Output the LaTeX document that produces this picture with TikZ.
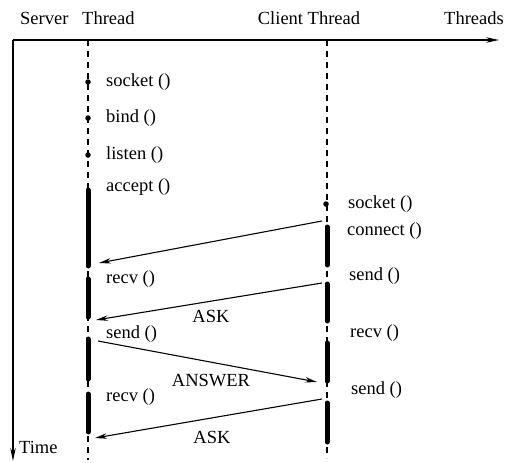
\documentclass[tikz,border=0pt]{standalone}
\usepackage{fontspec}
\setmainfont{Liberation Serif}
\usetikzlibrary{arrows.meta}
\tikzset{
  lbl/.style={anchor=west, inner sep=0pt, font=\fontsize{18.5}{20}\selectfont},
  txt/.style={inner sep=0pt, font=\fontsize{18.5}{20}\selectfont},
  life/.style={line width=1.6pt, dash pattern=on 6pt off 5pt},
  bar/.style={line width=5pt, line cap=round},
  msg/.style={line width=1.1pt, -{Stealth[length=12pt,width=5.5pt]}},
  axis/.style={line width=1.2pt, -{Stealth[length=13pt,width=5.5pt]}},
  ev/.style={circle, fill=black, inner sep=0pt, minimum size=5.5pt}
}
\begin{document}
\begin{tikzpicture}[x=1pt,y=-1pt]
\useasboundingbox (0,0) rectangle (507,463);

% axes
\coordinate (o) at (13,40);
\coordinate (xe) at (499,40);
\coordinate (ye) at (13,461);
\draw[axis] (o) -- (xe);
\draw[axis] (o) -- (ye);

% headings
\node[txt, anchor=base west] (hs) at (20,24) {Server};
\node[txt, anchor=base west] (ht) at (82,24) {Thread};
\node[txt, anchor=base] (hc) at (309,24) {Client Thread};
\node[txt, anchor=base east] (hth) at (504,24) {Threads};
\node[txt, anchor=base west] (htime) at (19,453) {Time};

% lifelines
\coordinate (s0) at (88,40);
\coordinate (s1) at (88,460);
\coordinate (c0) at (327,40);
\coordinate (c1) at (327,458);
\draw[life] (s0) -- (s1);
\draw[life] (c0) -- (c1);

% call events
\node[ev] (ds1) at (88,82) {};
\node[ev] (ds2) at (88,118) {};
\node[ev] (ds3) at (88,155) {};
\node[ev] (dc1) at (326,204) {};

% server calls
\node[lbl] (lsocket) at (106,82) {socket ()};
\node[lbl] (lbind) at (106,118) {bind ()};
\node[lbl] (llisten) at (106,155) {listen ()};
\node[lbl] (laccept) at (106,187) {accept ()};
\node[lbl] (lrecv1) at (106,279) {recv ()};
\node[lbl] (lsend1) at (106,334) {send ()};
\node[lbl] (lrecv2) at (106,397) {recv ()};

% client calls
\node[lbl] (csocket) at (348,204) {socket ()};
\node[lbl] (cconnect) at (347,231) {connect ()};
\node[lbl] (csend1) at (349,276) {send ()};
\node[lbl] (crecv) at (350,333) {recv ()};
\node[lbl] (csend2) at (351,390) {send ()};

% activity bars
\draw[bar] (88,190) -- (88,266);
\draw[bar] (88,279) -- (88,317);
\draw[bar] (88,339) -- (88,379);
\draw[bar] (88,394) -- (88,432);
\draw[bar] (327,227) -- (327,265);
\draw[bar] (327,284) -- (327,321);
\draw[bar] (327,343) -- (327,381);
\draw[bar] (327,403) -- (327,442);

% messages
\coordinate (m1a) at (322,221);
\coordinate (m1b) at (99,263);
\coordinate (m2a) at (322,283);
\coordinate (m2b) at (96,320);
\coordinate (m3a) at (98,341);
\coordinate (m3b) at (317,382);
\coordinate (m4a) at (322,399);
\coordinate (m4b) at (95,438);
\draw[msg] (m1a) -- (m1b);
\draw[msg] (m2a) -- (m2b);
\draw[msg] (m3a) -- (m3b);
\draw[msg] (m4a) -- (m4b);
\node[txt] (ask1) at (211,316) {ASK};
\node[txt] (ans) at (211,381) {ANSWER};
\node[txt] (ask2) at (212,437) {ASK};
\end{tikzpicture}
\end{document}
